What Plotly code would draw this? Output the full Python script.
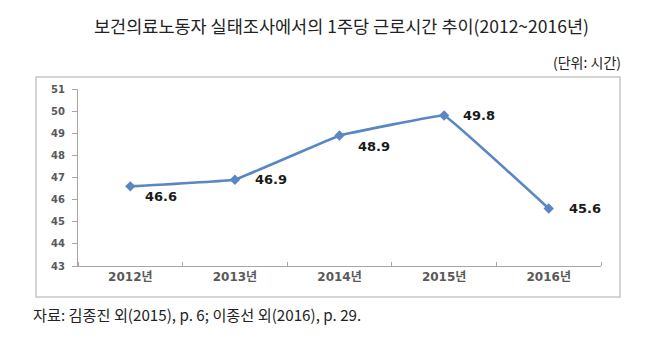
import plotly.graph_objects as go

years = ["2012년", "2013년", "2014년", "2015년", "2016년"]
hours = [46.6, 46.9, 48.9, 49.8, 45.6]
y_ticks = [43, 44, 45, 46, 47, 48, 49, 50, 51]
title = "보건의료노동자 실태조사에서의 1주당 근로시간 추이(2012~2016년)"
unit = "(단위: 시간)"
source = "자료: 김종진 외(2015), p. 6; 이종선 외(2016), p. 29."

# label offsets (style, pixels)
label_dx = [13, 18, 16, 17, 18]
label_dy = [-10, 0, -11, 0, 0]

W, H = 662, 340
ml, mr, mt, mb = 78, 61, 89, 74
pw, ph = W - ml - mr, H - mt - mb

def px(x):
    return (x - ml) / pw

def py(y):
    return (H - mb - y) / ph

xpos = [i + 0.5 for i in range(len(years))]
COLOR = "#5a86c2"

fig = go.Figure()
fig.add_trace(go.Scatter(
    x=xpos, y=hours,
    mode="lines+markers",
    line=dict(color=COLOR, width=2.6, shape="spline", smoothing=0.12),
    marker=dict(symbol="diamond", size=8, color=COLOR),
    cliponaxis=False,
    showlegend=False,
))

annotations = [
    dict(text=f"{v:.1f}", x=x, y=v, xref="x", yref="y",
         xanchor="left", yanchor="middle", xshift=dx, yshift=dy, showarrow=False,
         font=dict(family="DejaVu Sans", size=13, color="#1a1a1a", weight="bold"))
    for x, v, dx, dy in zip(xpos, hours, label_dx, label_dy)
]
annotations += [
    dict(text=title, xref="paper", yref="paper", x=px(341), y=py(25),
         xanchor="center", yanchor="middle", showarrow=False,
         font=dict(family="Noto Sans CJK KR", size=17.5, color="#222222")),
    dict(text=unit, xref="paper", yref="paper", x=px(623), y=py(62),
         xanchor="right", yanchor="middle", showarrow=False,
         font=dict(family="Noto Sans CJK KR", size=14, color="#222222")),
    dict(text=source, xref="paper", yref="paper", x=px(31), y=py(314),
         xanchor="left", yanchor="middle", showarrow=False,
         font=dict(family="Noto Sans CJK KR", size=15.2, color="#222222")),
]

fig.update_layout(
    width=W, height=H,
    margin=dict(l=ml, r=mr, t=mt, b=mb),
    paper_bgcolor="white", plot_bgcolor="white",
    xaxis=dict(
        range=[0, len(years)],
        tickvals=xpos, ticktext=years,
        ticks="", showgrid=False, zeroline=False,
        showline=True, linecolor="#a6a6a6", linewidth=1,
        tickfont=dict(family="DejaVu Sans, Noto Sans CJK KR", size=12, color="#595959", weight="bold"),
        minor=dict(tick0=0, dtick=1, ticks="inside", ticklen=4, tickcolor="#a6a6a6", showgrid=False),
        fixedrange=True,
    ),
    yaxis=dict(
        range=[43, 51],
        tickvals=y_ticks,
        ticks="outside", ticklen=5, tickcolor="#a6a6a6",
        ticklabelstandoff=5,
        showgrid=False, zeroline=False,
        showline=True, linecolor="#a6a6a6", linewidth=1,
        tickfont=dict(family="DejaVu Sans", size=10, color="#595959", weight="bold"),
        fixedrange=True,
    ),
    shapes=[dict(
        type="rect", xref="paper", yref="paper",
        x0=px(36), x1=px(620), y0=py(297), y1=py(77),
        line=dict(color="#c8c8c8", width=1.5),
    )],
    annotations=annotations,
)

fig.write_html("out.html")
